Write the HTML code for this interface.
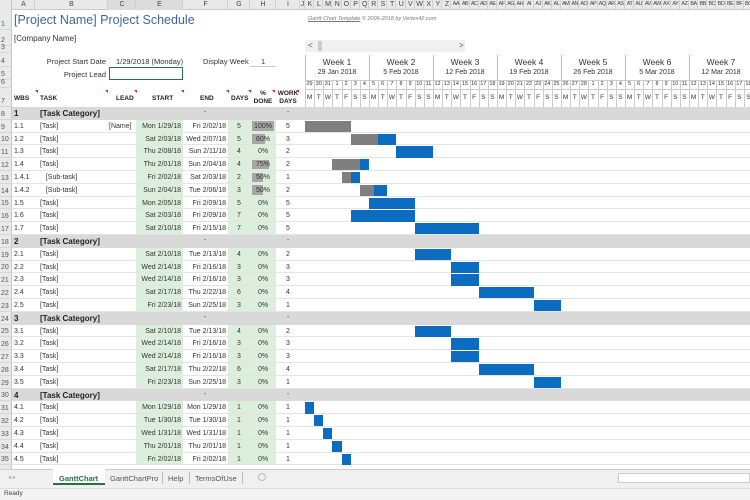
<!DOCTYPE html>
<html><head><meta charset="utf-8">
<style>
*{margin:0;padding:0;box-sizing:border-box}
body{width:750px;height:500px;overflow:hidden;background:#fff;font-family:"Liberation Sans",Arial,sans-serif;font-size:7px;color:#333;position:relative}
.a{position:absolute;white-space:nowrap}
</style></head><body>
<div id="root"></div>
<script>
var H='';
function box(x,y,w,h,st){H+='<div class="a" style="left:'+x+'px;top:'+y+'px;width:'+w+'px;height:'+h+'px;'+(st||'')+'"></div>';}
function txt(x,y,t,st){H+='<div class="a" style="left:'+x+'px;top:'+y+'px;'+(st||'')+'">'+t+'</div>';}
function ctxt(cx,y,t,st){H+='<div class="a" style="left:'+(cx-40)+'px;top:'+y+'px;width:80px;text-align:center;'+(st||'')+'">'+t+'</div>';}
function rtxt(rx,y,t,st){H+='<div class="a" style="left:'+(rx-120)+'px;top:'+y+'px;width:120px;text-align:right;'+(st||'')+'">'+t+'</div>';}
var D0=305,DW=64/7;
function rt(n){return 107+12.8*(n-8);}
box(0,0,750,10,'background:#e9e9e9;border-bottom:1px solid #c8c8c8');
box(0,0,12,500,'background:#e9e9e9;border-right:1px solid #c8c8c8');
var cols=[['A',12,35],['B',35,108],['C',108,136],['E',136,183],['F',183,228],['G',228,250],['H',250,276],['I',276,300],['J',300,305]];
cols.forEach(function(c){box(c[1],0,c[2]-c[1],10,'border-right:1px solid #d0d0d0'+(c[0]=='C'||c[0]=='E'?';background:#dcdcdc':''));ctxt((c[1]+c[2])/2,1,c[0],'font-size:7px;color:#444');});
var L='ABCDEFGHIJKLMNOPQRSTUVWXYZ';
function colname(i){if(i<26)return L[i];return L[Math.floor(i/26)-1]+L[i%26];}
for(var i=0;i<49;i++){var x=D0+i*DW;box(x,0,DW,10,'border-right:1px solid #d0d0d0');ctxt(x+DW/2,1,colname(10+i),'font-size:'+(i<16?7:5.5)+'px;color:#444;letter-spacing:-0.5px');}
var rh=[[1,10,30],[2,30,46],[3,46,53],[4,53,67],[5,67,80],[6,80,88],[7,88,107]];
for(var n=8;n<=36;n++)rh.push([n,rt(n),rt(n)+12.8]);
rh.forEach(function(r){txt(1,r[2]-9,r[0],'font-size:7px;color:#555');box(0,r[2]-1,12,1,'background:#d6d6d6');});
txt(14,13,'[Project Name] Project Schedule','font-size:12.5px;color:#3f66a0');
txt(14,34,'[Company Name]','font-size:8px;color:#333');
rtxt(106,57,'Project Start Date','font-size:7.5px');
txt(116,57,'1/29/2018 (Monday)','font-size:7.5px');
txt(203,57,'Display Week','font-size:7.5px');
txt(261,57,'1','font-size:7.5px');
box(250,66,26,1,'background:#ccc');
rtxt(106,70,'Project Lead','font-size:7.5px');
box(109,67,74,13,'border:1.5px solid #217346');
txt(308,16,'<u>Gantt Chart Template</u>  © 2006-2018 by Vertex42.com','font-size:5.5px;color:#777;font-style:italic');
box(305,40,160,12,'background:#f0f0f0');box(318,41,4,10,'background:#ccc');
txt(308,41,'&lt;','font-size:8px;color:#555');txt(459,41,'&gt;','font-size:8px;color:#555');
var hs='font-weight:bold;font-size:6.5px;color:#222';
txt(14,95,'WBS',hs);txt(40,95,'TASK',hs);txt(116,95,'LEAD',hs);txt(152,95,'START',hs);txt(200,95,'END',hs);txt(231,95,'DAYS',hs);
ctxt(263,90,'%<br>DONE',hs+';line-height:8px');ctxt(288,90,'WORK<br>DAYS',hs+';line-height:8px');
[[35,90],[105,90],[134,90],[181,90],[226,90],[248,90],[272,90],[296,90]].forEach(function(p){box(p[0],p[1],3,3,'background:#d22;clip-path:polygon(0 0,100% 0,100% 100%)')});
var wk=['29 Jan 2018','5 Feb 2018','12 Feb 2018','19 Feb 2018','26 Feb 2018','5 Mar 2018','12 Mar 2018'];
for(var w=0;w<7;w++){var x=D0+w*64;box(x,55,1,52,'background:#bbb');ctxt(x+32,57,'Week '+(w+1),'font-size:8.5px;color:#333');ctxt(x+32,69,wk[w],'font-size:7px;color:#333');}
var dates=[29,30,31];for(var i=1;i<=28;i++)dates.push(i);for(var i=1;i<=18;i++)dates.push(i);
var dl='MTWTFSS';
for(var i=0;i<49;i++){var x=D0+i*DW;box(x,80,1,27,'background:#ccc');ctxt(x+DW/2,81,dates[i],'font-size:5.5px;color:#333');ctxt(x+DW/2,94,dl[i%7],'font-size:6.5px;color:#333');}
box(305,80,445,1,'background:#ccc');box(305,89,445,1,'background:#ccc');
var rows=[
['c','1'],
['1.1','[Task]','[Name]','Mon 1/29/18','Fri 2/02/18',5,100,5,0],
['1.2','[Task]','','Sat 2/03/18','Wed 2/07/18',5,60,3,5],
['1.3','[Task]','','Thu 2/08/18','Sun 2/11/18',4,0,2,10],
['1.4','[Task]','','Thu 2/01/18','Sun 2/04/18',4,75,2,3],
['1.4.1','&nbsp;&nbsp;&nbsp;[Sub-task]','','Fri 2/02/18','Sat 2/03/18',2,50,1,4],
['1.4.2','&nbsp;&nbsp;&nbsp;[Sub-task]','','Sun 2/04/18','Tue 2/06/18',3,50,2,6],
['1.5','[Task]','','Mon 2/05/18','Fri 2/09/18',5,0,5,7],
['1.6','[Task]','','Sat 2/03/18','Fri 2/09/18',7,0,5,5],
['1.7','[Task]','','Sat 2/10/18','Fri 2/15/18',7,0,5,12],
['c','2'],
['2.1','[Task]','','Sat 2/10/18','Tue 2/13/18',4,0,2,12],
['2.2','[Task]','','Wed 2/14/18','Fri 2/16/18',3,0,3,16],
['2.3','[Task]','','Wed 2/14/18','Fri 2/16/18',3,0,3,16],
['2.4','[Task]','','Sat 2/17/18','Thu 2/22/18',6,0,4,19],
['2.5','[Task]','','Fri 2/23/18','Sun 2/25/18',3,0,1,25],
['c','3'],
['3.1','[Task]','','Sat 2/10/18','Tue 2/13/18',4,0,2,12],
['3.2','[Task]','','Wed 2/14/18','Fri 2/16/18',3,0,3,16],
['3.3','[Task]','','Wed 2/14/18','Fri 2/16/18',3,0,3,16],
['3.4','[Task]','','Sat 2/17/18','Thu 2/22/18',6,0,4,19],
['3.5','[Task]','','Fri 2/23/18','Sun 2/25/18',3,0,1,25],
['c','4'],
['4.1','[Task]','','Mon 1/29/18','Mon 1/29/18',1,0,1,0],
['4.2','[Task]','','Tue 1/30/18','Tue 1/30/18',1,0,1,1],
['4.3','[Task]','','Wed 1/31/18','Wed 1/31/18',1,0,1,2],
['4.4','[Task]','','Thu 2/01/18','Thu 2/01/18',1,0,1,3],
['4.5','[Task]','','Fri 2/02/18','Fri 2/02/18',1,0,1,4]];
rows.forEach(function(r,k){var y=rt(8+k),h=12.8,ty=y+3;
 if(r[0]=='c'){box(12,y,738,h,'background:#d9d9d9');txt(14,ty-1,r[1],'font-weight:bold;font-size:8px;color:#222');txt(40,ty-1,'[Task Category]','font-weight:bold;font-size:8px;color:#222');ctxt(205,ty-1,'-','font-size:7px');ctxt(288,ty-1,'-','font-size:7px');return;}
 box(136,y,47,h,'background:#dcefdc');box(228,y,48,h,'background:#dcefdc');
 box(12,y+h-1,738,1,'background:#e4e4e4');
 if(r[6]>0)box(252,y+1.5,22*r[6]/100,h-3,'background:#a6a6a6');
 txt(14,ty,r[0]);txt(40,ty,r[1]);if(r[2])txt(109,ty,r[2]);
 H+='<div class="a" style="left:136px;top:'+ty+'px;width:45px;text-align:right">'+r[3]+'</div>';
 H+='<div class="a" style="left:183px;top:'+ty+'px;width:43px;text-align:right">'+r[4]+'</div>';
 ctxt(239,ty,r[5]);ctxt(263,ty,r[6]+'%');ctxt(288,ty,r[7]);
 var bx=D0+r[8]*DW,bw=r[5]*DW,gw=bw*r[6]/100;
 box(bx,y+1,bw,h-1.5,'background:#0b6cc0');
 if(gw>0)box(bx,y+1,gw,h-1.5,'background:#7f7f7f');
});
box(0,469,750,19,'background:#f0f0f0;border-top:1px solid #ccc');
box(53,469,52,16,'background:#fff;border-bottom:2px solid #217346');
txt(59,474,'GanttChart','font-weight:bold;font-size:7.5px;color:#217346');
txt(110,474,'GanttChartPro','font-size:7.5px;color:#555');
box(162,472,1,12,'background:#bbb');
txt(168,474,'Help','font-size:7.5px;color:#555');
box(189,472,1,12,'background:#bbb');
txt(195,474,'TermsOfUse','font-size:7.5px;color:#555');
box(242,472,1,12,'background:#bbb');
box(258,473,8,8,'border:1px solid #bbb;border-radius:50%');
txt(8,474,'◂ ▸','font-size:6px;color:#aaa');
box(618,473,132,10,'background:#fff;border:1px solid #ccc');
box(0,488,750,12,'background:#f3f3f3;border-top:1px solid #ddd');
txt(4,490,'Ready','font-size:6.5px;color:#444');
document.getElementById('root').innerHTML=H;
</script>
</body></html>
